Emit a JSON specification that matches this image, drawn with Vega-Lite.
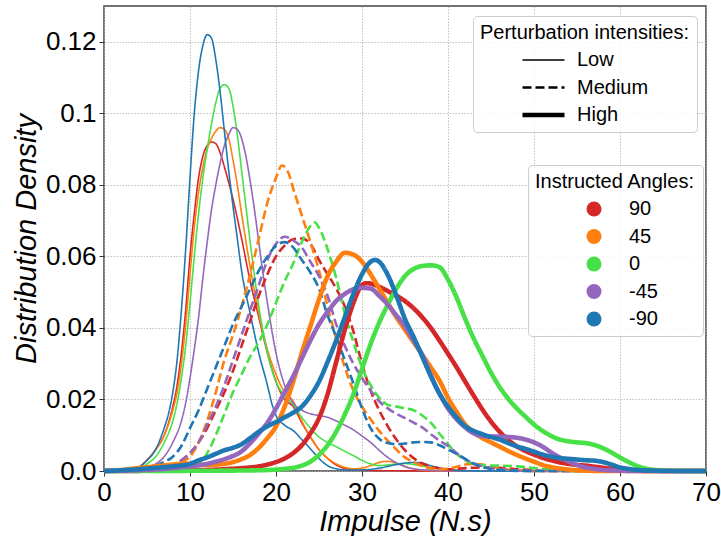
{
"$schema": "https://vega.github.io/schema/vega-lite/v6.json",
"width": 602, "height": 465,
"autosize": "none",
"padding": {"left": 104, "top": 6, "right": 15, "bottom": 65},
"config": {
  "font": "Liberation Sans",
  "view": {"stroke": "#444444", "strokeWidth": 1.5},
  "axis": {
    "labelFont": "Liberation Sans", "labelFontSize": 26, "labelColor": "black",
    "titleFont": "Liberation Sans", "titleFontSize": 29, "titleFontStyle": "italic", "titleFontWeight": "normal", "titleColor": "black",
    "tickColor": "#333333", "tickSize": 5, "tickWidth": 1,
    "domain": false, "labelFlush": false, "labelOverlap": false,
    "grid": true, "gridColor": "#b0b0b0", "gridDash": [1.5, 1.5], "gridWidth": 0.8,
    "labelPadding": 3
  },
  "legend": {
    "titleFont": "Liberation Sans", "labelFont": "Liberation Sans",
    "titleFontSize": 20, "labelFontSize": 20, "titleFontWeight": "normal", "titleColor": "black", "labelColor": "black",
    "titleLimit": 400, "padding": 7, "strokeColor": "#cccccc", "fillColor": "rgba(255,255,255,0.85)", "cornerRadius": 4,
    "rowPadding": 7.5, "titlePadding": 7, "clipHeight": 20
  }
},
"data": {"values": [
{"angle":"90","level":"Low","x":0,"y":0},{"angle":"90","level":"Low","x":3,"y":0.0003},{"angle":"90","level":"Low","x":4,"y":0.001},{"angle":"90","level":"Low","x":5,"y":0.003},{"angle":"90","level":"Low","x":6,"y":0.006},{"angle":"90","level":"Low","x":7,"y":0.01},{"angle":"90","level":"Low","x":8,"y":0.018},{"angle":"90","level":"Low","x":8.5,"y":0.024},{"angle":"90","level":"Low","x":9,"y":0.033},{"angle":"90","level":"Low","x":9.5,"y":0.045},{"angle":"90","level":"Low","x":10,"y":0.06},{"angle":"90","level":"Low","x":10.5,"y":0.072},{"angle":"90","level":"Low","x":11,"y":0.082},{"angle":"90","level":"Low","x":11.5,"y":0.088},{"angle":"90","level":"Low","x":12,"y":0.091},{"angle":"90","level":"Low","x":12.5,"y":0.092},{"angle":"90","level":"Low","x":13,"y":0.0915},{"angle":"90","level":"Low","x":13.5,"y":0.089},{"angle":"90","level":"Low","x":14,"y":0.085},{"angle":"90","level":"Low","x":15,"y":0.076},{"angle":"90","level":"Low","x":16,"y":0.065},{"angle":"90","level":"Low","x":17,"y":0.053},{"angle":"90","level":"Low","x":18,"y":0.043},{"angle":"90","level":"Low","x":19,"y":0.033},{"angle":"90","level":"Low","x":20,"y":0.025},{"angle":"90","level":"Low","x":21,"y":0.02},{"angle":"90","level":"Low","x":22,"y":0.018},{"angle":"90","level":"Low","x":23,"y":0.0135},{"angle":"90","level":"Low","x":24,"y":0.0095},{"angle":"90","level":"Low","x":25,"y":0.006},{"angle":"90","level":"Low","x":26,"y":0.0035},{"angle":"90","level":"Low","x":27,"y":0.0017},{"angle":"90","level":"Low","x":28,"y":0.0007},{"angle":"90","level":"Low","x":29,"y":0.0003},{"angle":"90","level":"Low","x":32,"y":0.0001},{"angle":"90","level":"Low","x":40,"y":0},{"angle":"90","level":"Low","x":70,"y":0},
{"angle":"45","level":"Low","x":0,"y":0},{"angle":"45","level":"Low","x":3,"y":0.0003},{"angle":"45","level":"Low","x":4,"y":0.001},{"angle":"45","level":"Low","x":5,"y":0.003},{"angle":"45","level":"Low","x":6,"y":0.006},{"angle":"45","level":"Low","x":7,"y":0.01},{"angle":"45","level":"Low","x":8,"y":0.017},{"angle":"45","level":"Low","x":8.5,"y":0.022},{"angle":"45","level":"Low","x":9,"y":0.03},{"angle":"45","level":"Low","x":9.5,"y":0.041},{"angle":"45","level":"Low","x":10,"y":0.055},{"angle":"45","level":"Low","x":10.5,"y":0.068},{"angle":"45","level":"Low","x":11,"y":0.078},{"angle":"45","level":"Low","x":11.5,"y":0.085},{"angle":"45","level":"Low","x":12,"y":0.09},{"angle":"45","level":"Low","x":12.5,"y":0.093},{"angle":"45","level":"Low","x":13,"y":0.095},{"angle":"45","level":"Low","x":13.5,"y":0.096},{"angle":"45","level":"Low","x":14,"y":0.0955},{"angle":"45","level":"Low","x":14.5,"y":0.093},{"angle":"45","level":"Low","x":15,"y":0.087},{"angle":"45","level":"Low","x":15.5,"y":0.08},{"angle":"45","level":"Low","x":16,"y":0.072},{"angle":"45","level":"Low","x":17,"y":0.057},{"angle":"45","level":"Low","x":18,"y":0.044},{"angle":"45","level":"Low","x":19,"y":0.034},{"angle":"45","level":"Low","x":20,"y":0.027},{"angle":"45","level":"Low","x":21,"y":0.022},{"angle":"45","level":"Low","x":22,"y":0.0195},{"angle":"45","level":"Low","x":23,"y":0.014},{"angle":"45","level":"Low","x":24,"y":0.0095},{"angle":"45","level":"Low","x":25,"y":0.006},{"angle":"45","level":"Low","x":26,"y":0.0036},{"angle":"45","level":"Low","x":27,"y":0.002},{"angle":"45","level":"Low","x":28,"y":0.001},{"angle":"45","level":"Low","x":29,"y":0.0006},{"angle":"45","level":"Low","x":30,"y":0.0008},{"angle":"45","level":"Low","x":31,"y":0.0015},{"angle":"45","level":"Low","x":32,"y":0.0024},{"angle":"45","level":"Low","x":33,"y":0.0027},{"angle":"45","level":"Low","x":34,"y":0.0022},{"angle":"45","level":"Low","x":35,"y":0.0013},{"angle":"45","level":"Low","x":36,"y":0.0006},{"angle":"45","level":"Low","x":38,"y":0.0001},{"angle":"45","level":"Low","x":40,"y":0},{"angle":"45","level":"Low","x":70,"y":0},
{"angle":"0","level":"Low","x":0,"y":0},{"angle":"0","level":"Low","x":4,"y":0.0005},{"angle":"0","level":"Low","x":5,"y":0.002},{"angle":"0","level":"Low","x":6,"y":0.004},{"angle":"0","level":"Low","x":7,"y":0.008},{"angle":"0","level":"Low","x":8,"y":0.014},{"angle":"0","level":"Low","x":8.5,"y":0.019},{"angle":"0","level":"Low","x":9,"y":0.026},{"angle":"0","level":"Low","x":9.5,"y":0.035},{"angle":"0","level":"Low","x":10,"y":0.047},{"angle":"0","level":"Low","x":10.5,"y":0.06},{"angle":"0","level":"Low","x":11,"y":0.072},{"angle":"0","level":"Low","x":11.5,"y":0.082},{"angle":"0","level":"Low","x":12,"y":0.09},{"angle":"0","level":"Low","x":12.5,"y":0.097},{"angle":"0","level":"Low","x":13,"y":0.103},{"angle":"0","level":"Low","x":13.5,"y":0.107},{"angle":"0","level":"Low","x":14,"y":0.108},{"angle":"0","level":"Low","x":14.5,"y":0.107},{"angle":"0","level":"Low","x":15,"y":0.102},{"angle":"0","level":"Low","x":15.5,"y":0.094},{"angle":"0","level":"Low","x":16,"y":0.084},{"angle":"0","level":"Low","x":16.5,"y":0.074},{"angle":"0","level":"Low","x":17,"y":0.064},{"angle":"0","level":"Low","x":18,"y":0.046},{"angle":"0","level":"Low","x":19,"y":0.033},{"angle":"0","level":"Low","x":20,"y":0.025},{"angle":"0","level":"Low","x":21,"y":0.021},{"angle":"0","level":"Low","x":22,"y":0.0185},{"angle":"0","level":"Low","x":23,"y":0.015},{"angle":"0","level":"Low","x":24,"y":0.012},{"angle":"0","level":"Low","x":25,"y":0.0095},{"angle":"0","level":"Low","x":26,"y":0.008},{"angle":"0","level":"Low","x":27,"y":0.0068},{"angle":"0","level":"Low","x":28,"y":0.0055},{"angle":"0","level":"Low","x":29,"y":0.0043},{"angle":"0","level":"Low","x":30,"y":0.003},{"angle":"0","level":"Low","x":31,"y":0.002},{"angle":"0","level":"Low","x":32,"y":0.0015},{"angle":"0","level":"Low","x":33,"y":0.0017},{"angle":"0","level":"Low","x":34,"y":0.002},{"angle":"0","level":"Low","x":35,"y":0.0021},{"angle":"0","level":"Low","x":36,"y":0.0018},{"angle":"0","level":"Low","x":38,"y":0.001},{"angle":"0","level":"Low","x":40,"y":0.0004},{"angle":"0","level":"Low","x":42,"y":0.0001},{"angle":"0","level":"Low","x":45,"y":0},{"angle":"0","level":"Low","x":70,"y":0},
{"angle":"-45","level":"Low","x":0,"y":0},{"angle":"-45","level":"Low","x":5,"y":0.001},{"angle":"-45","level":"Low","x":6,"y":0.002},{"angle":"-45","level":"Low","x":7,"y":0.004},{"angle":"-45","level":"Low","x":8,"y":0.008},{"angle":"-45","level":"Low","x":9,"y":0.014},{"angle":"-45","level":"Low","x":9.5,"y":0.019},{"angle":"-45","level":"Low","x":10,"y":0.026},{"angle":"-45","level":"Low","x":10.5,"y":0.034},{"angle":"-45","level":"Low","x":11,"y":0.043},{"angle":"-45","level":"Low","x":11.5,"y":0.054},{"angle":"-45","level":"Low","x":12,"y":0.064},{"angle":"-45","level":"Low","x":12.5,"y":0.073},{"angle":"-45","level":"Low","x":13,"y":0.08},{"angle":"-45","level":"Low","x":13.5,"y":0.086},{"angle":"-45","level":"Low","x":14,"y":0.091},{"angle":"-45","level":"Low","x":14.5,"y":0.094},{"angle":"-45","level":"Low","x":15,"y":0.096},{"angle":"-45","level":"Low","x":15.5,"y":0.0955},{"angle":"-45","level":"Low","x":16,"y":0.093},{"angle":"-45","level":"Low","x":16.5,"y":0.088},{"angle":"-45","level":"Low","x":17,"y":0.081},{"angle":"-45","level":"Low","x":17.5,"y":0.073},{"angle":"-45","level":"Low","x":18,"y":0.064},{"angle":"-45","level":"Low","x":18.5,"y":0.055},{"angle":"-45","level":"Low","x":19,"y":0.047},{"angle":"-45","level":"Low","x":20,"y":0.033},{"angle":"-45","level":"Low","x":21,"y":0.024},{"angle":"-45","level":"Low","x":22,"y":0.019},{"angle":"-45","level":"Low","x":23,"y":0.017},{"angle":"-45","level":"Low","x":24,"y":0.016},{"angle":"-45","level":"Low","x":25,"y":0.0155},{"angle":"-45","level":"Low","x":26,"y":0.015},{"angle":"-45","level":"Low","x":27,"y":0.014},{"angle":"-45","level":"Low","x":28,"y":0.0128},{"angle":"-45","level":"Low","x":29,"y":0.0115},{"angle":"-45","level":"Low","x":30,"y":0.0098},{"angle":"-45","level":"Low","x":31,"y":0.008},{"angle":"-45","level":"Low","x":32,"y":0.0058},{"angle":"-45","level":"Low","x":33,"y":0.0038},{"angle":"-45","level":"Low","x":34,"y":0.0023},{"angle":"-45","level":"Low","x":35,"y":0.0012},{"angle":"-45","level":"Low","x":36,"y":0.0006},{"angle":"-45","level":"Low","x":38,"y":0.0002},{"angle":"-45","level":"Low","x":40,"y":0},{"angle":"-45","level":"Low","x":70,"y":0},
{"angle":"-90","level":"Low","x":0,"y":0},{"angle":"-90","level":"Low","x":2,"y":0.0001},{"angle":"-90","level":"Low","x":4,"y":0.001},{"angle":"-90","level":"Low","x":5,"y":0.003},{"angle":"-90","level":"Low","x":6,"y":0.006},{"angle":"-90","level":"Low","x":7,"y":0.012},{"angle":"-90","level":"Low","x":7.5,"y":0.016},{"angle":"-90","level":"Low","x":8,"y":0.022},{"angle":"-90","level":"Low","x":8.5,"y":0.031},{"angle":"-90","level":"Low","x":9,"y":0.045},{"angle":"-90","level":"Low","x":9.5,"y":0.062},{"angle":"-90","level":"Low","x":10,"y":0.082},{"angle":"-90","level":"Low","x":10.5,"y":0.1},{"angle":"-90","level":"Low","x":11,"y":0.112},{"angle":"-90","level":"Low","x":11.5,"y":0.119},{"angle":"-90","level":"Low","x":12,"y":0.122},{"angle":"-90","level":"Low","x":12.5,"y":0.121},{"angle":"-90","level":"Low","x":13,"y":0.115},{"angle":"-90","level":"Low","x":13.5,"y":0.106},{"angle":"-90","level":"Low","x":14,"y":0.095},{"angle":"-90","level":"Low","x":14.5,"y":0.084},{"angle":"-90","level":"Low","x":15,"y":0.074},{"angle":"-90","level":"Low","x":15.5,"y":0.065},{"angle":"-90","level":"Low","x":16,"y":0.056},{"angle":"-90","level":"Low","x":17,"y":0.044},{"angle":"-90","level":"Low","x":18,"y":0.033},{"angle":"-90","level":"Low","x":19,"y":0.024},{"angle":"-90","level":"Low","x":19.5,"y":0.019},{"angle":"-90","level":"Low","x":20,"y":0.0155},{"angle":"-90","level":"Low","x":21,"y":0.0128},{"angle":"-90","level":"Low","x":22,"y":0.0113},{"angle":"-90","level":"Low","x":23,"y":0.0088},{"angle":"-90","level":"Low","x":24,"y":0.0062},{"angle":"-90","level":"Low","x":25,"y":0.0035},{"angle":"-90","level":"Low","x":26,"y":0.0015},{"angle":"-90","level":"Low","x":27,"y":0.0006},{"angle":"-90","level":"Low","x":28,"y":0.0003},{"angle":"-90","level":"Low","x":30,"y":0.0003},{"angle":"-90","level":"Low","x":32,"y":0.0008},{"angle":"-90","level":"Low","x":34,"y":0.0018},{"angle":"-90","level":"Low","x":36,"y":0.0024},{"angle":"-90","level":"Low","x":37,"y":0.0022},{"angle":"-90","level":"Low","x":38,"y":0.0015},{"angle":"-90","level":"Low","x":40,"y":0.0005},{"angle":"-90","level":"Low","x":42,"y":0.0001},{"angle":"-90","level":"Low","x":45,"y":0},{"angle":"-90","level":"Low","x":70,"y":0},
{"angle":"90","level":"Medium","x":0,"y":0},{"angle":"90","level":"Medium","x":6,"y":0.0003},{"angle":"90","level":"Medium","x":8,"y":0.0015},{"angle":"90","level":"Medium","x":9,"y":0.003},{"angle":"90","level":"Medium","x":10,"y":0.005},{"angle":"90","level":"Medium","x":11,"y":0.008},{"angle":"90","level":"Medium","x":12,"y":0.012},{"angle":"90","level":"Medium","x":13,"y":0.017},{"angle":"90","level":"Medium","x":14,"y":0.022},{"angle":"90","level":"Medium","x":15,"y":0.028},{"angle":"90","level":"Medium","x":16,"y":0.035},{"angle":"90","level":"Medium","x":17,"y":0.042},{"angle":"90","level":"Medium","x":18,"y":0.049},{"angle":"90","level":"Medium","x":19,"y":0.055},{"angle":"90","level":"Medium","x":20,"y":0.06},{"angle":"90","level":"Medium","x":21,"y":0.063},{"angle":"90","level":"Medium","x":22,"y":0.0648},{"angle":"90","level":"Medium","x":23,"y":0.065},{"angle":"90","level":"Medium","x":24,"y":0.0635},{"angle":"90","level":"Medium","x":25,"y":0.059},{"angle":"90","level":"Medium","x":26,"y":0.055},{"angle":"90","level":"Medium","x":27,"y":0.051},{"angle":"90","level":"Medium","x":28,"y":0.046},{"angle":"90","level":"Medium","x":29,"y":0.039},{"angle":"90","level":"Medium","x":30,"y":0.03},{"angle":"90","level":"Medium","x":31,"y":0.0225},{"angle":"90","level":"Medium","x":32,"y":0.017},{"angle":"90","level":"Medium","x":33,"y":0.0125},{"angle":"90","level":"Medium","x":34,"y":0.0088},{"angle":"90","level":"Medium","x":35,"y":0.0058},{"angle":"90","level":"Medium","x":36,"y":0.0036},{"angle":"90","level":"Medium","x":37,"y":0.0021},{"angle":"90","level":"Medium","x":38,"y":0.0012},{"angle":"90","level":"Medium","x":39,"y":0.0007},{"angle":"90","level":"Medium","x":40,"y":0.0005},{"angle":"90","level":"Medium","x":42,"y":0.0008},{"angle":"90","level":"Medium","x":44,"y":0.001},{"angle":"90","level":"Medium","x":46,"y":0.0009},{"angle":"90","level":"Medium","x":48,"y":0.0005},{"angle":"90","level":"Medium","x":50,"y":0.0002},{"angle":"90","level":"Medium","x":52,"y":0},{"angle":"90","level":"Medium","x":70,"y":0},
{"angle":"45","level":"Medium","x":0,"y":0},{"angle":"45","level":"Medium","x":6,"y":0.0005},{"angle":"45","level":"Medium","x":8,"y":0.0015},{"angle":"45","level":"Medium","x":9,"y":0.0025},{"angle":"45","level":"Medium","x":10,"y":0.004},{"angle":"45","level":"Medium","x":11,"y":0.008},{"angle":"45","level":"Medium","x":12,"y":0.014},{"angle":"45","level":"Medium","x":13,"y":0.022},{"angle":"45","level":"Medium","x":14,"y":0.031},{"angle":"45","level":"Medium","x":15,"y":0.038},{"angle":"45","level":"Medium","x":16,"y":0.046},{"angle":"45","level":"Medium","x":17,"y":0.055},{"angle":"45","level":"Medium","x":18,"y":0.065},{"angle":"45","level":"Medium","x":19,"y":0.075},{"angle":"45","level":"Medium","x":20,"y":0.082},{"angle":"45","level":"Medium","x":20.7,"y":0.0854},{"angle":"45","level":"Medium","x":21.5,"y":0.083},{"angle":"45","level":"Medium","x":22,"y":0.079},{"angle":"45","level":"Medium","x":23,"y":0.0715},{"angle":"45","level":"Medium","x":24,"y":0.064},{"angle":"45","level":"Medium","x":25,"y":0.056},{"angle":"45","level":"Medium","x":26,"y":0.046},{"angle":"45","level":"Medium","x":27,"y":0.037},{"angle":"45","level":"Medium","x":28,"y":0.029},{"angle":"45","level":"Medium","x":29,"y":0.0225},{"angle":"45","level":"Medium","x":30,"y":0.018},{"angle":"45","level":"Medium","x":31,"y":0.0145},{"angle":"45","level":"Medium","x":32,"y":0.0112},{"angle":"45","level":"Medium","x":33,"y":0.0085},{"angle":"45","level":"Medium","x":34,"y":0.006},{"angle":"45","level":"Medium","x":35,"y":0.0038},{"angle":"45","level":"Medium","x":36,"y":0.0025},{"angle":"45","level":"Medium","x":37,"y":0.0014},{"angle":"45","level":"Medium","x":38,"y":0.0008},{"angle":"45","level":"Medium","x":39,"y":0.0005},{"angle":"45","level":"Medium","x":40,"y":0.0006},{"angle":"45","level":"Medium","x":41,"y":0.0012},{"angle":"45","level":"Medium","x":42,"y":0.0018},{"angle":"45","level":"Medium","x":43,"y":0.002},{"angle":"45","level":"Medium","x":44,"y":0.0018},{"angle":"45","level":"Medium","x":45,"y":0.0013},{"angle":"45","level":"Medium","x":46,"y":0.0007},{"angle":"45","level":"Medium","x":48,"y":0.0002},{"angle":"45","level":"Medium","x":50,"y":0},{"angle":"45","level":"Medium","x":70,"y":0},
{"angle":"0","level":"Medium","x":0,"y":0},{"angle":"0","level":"Medium","x":8,"y":0.0003},{"angle":"0","level":"Medium","x":10,"y":0.001},{"angle":"0","level":"Medium","x":11,"y":0.002},{"angle":"0","level":"Medium","x":12,"y":0.005},{"angle":"0","level":"Medium","x":13,"y":0.01},{"angle":"0","level":"Medium","x":14,"y":0.016},{"angle":"0","level":"Medium","x":15,"y":0.022},{"angle":"0","level":"Medium","x":16,"y":0.027},{"angle":"0","level":"Medium","x":17,"y":0.032},{"angle":"0","level":"Medium","x":18,"y":0.036},{"angle":"0","level":"Medium","x":19,"y":0.041},{"angle":"0","level":"Medium","x":20,"y":0.047},{"angle":"0","level":"Medium","x":21,"y":0.053},{"angle":"0","level":"Medium","x":22,"y":0.058},{"angle":"0","level":"Medium","x":23,"y":0.064},{"angle":"0","level":"Medium","x":24,"y":0.0685},{"angle":"0","level":"Medium","x":24.5,"y":0.0695},{"angle":"0","level":"Medium","x":25,"y":0.068},{"angle":"0","level":"Medium","x":26,"y":0.062},{"angle":"0","level":"Medium","x":27,"y":0.054},{"angle":"0","level":"Medium","x":28,"y":0.044},{"angle":"0","level":"Medium","x":29,"y":0.036},{"angle":"0","level":"Medium","x":30,"y":0.029},{"angle":"0","level":"Medium","x":31,"y":0.024},{"angle":"0","level":"Medium","x":32,"y":0.0205},{"angle":"0","level":"Medium","x":33,"y":0.0185},{"angle":"0","level":"Medium","x":34,"y":0.018},{"angle":"0","level":"Medium","x":35,"y":0.0175},{"angle":"0","level":"Medium","x":36,"y":0.017},{"angle":"0","level":"Medium","x":37,"y":0.0155},{"angle":"0","level":"Medium","x":38,"y":0.0135},{"angle":"0","level":"Medium","x":39,"y":0.0105},{"angle":"0","level":"Medium","x":40,"y":0.0075},{"angle":"0","level":"Medium","x":41,"y":0.0048},{"angle":"0","level":"Medium","x":42,"y":0.003},{"angle":"0","level":"Medium","x":43,"y":0.002},{"angle":"0","level":"Medium","x":44,"y":0.0016},{"angle":"0","level":"Medium","x":46,"y":0.0015},{"angle":"0","level":"Medium","x":48,"y":0.0013},{"angle":"0","level":"Medium","x":50,"y":0.0008},{"angle":"0","level":"Medium","x":52,"y":0.0004},{"angle":"0","level":"Medium","x":54,"y":0.0001},{"angle":"0","level":"Medium","x":56,"y":0},{"angle":"0","level":"Medium","x":70,"y":0},
{"angle":"-45","level":"Medium","x":0,"y":0},{"angle":"-45","level":"Medium","x":6,"y":0.0003},{"angle":"-45","level":"Medium","x":8,"y":0.0015},{"angle":"-45","level":"Medium","x":9,"y":0.003},{"angle":"-45","level":"Medium","x":10,"y":0.005},{"angle":"-45","level":"Medium","x":11,"y":0.008},{"angle":"-45","level":"Medium","x":12,"y":0.013},{"angle":"-45","level":"Medium","x":13,"y":0.018},{"angle":"-45","level":"Medium","x":14,"y":0.024},{"angle":"-45","level":"Medium","x":15,"y":0.031},{"angle":"-45","level":"Medium","x":16,"y":0.038},{"angle":"-45","level":"Medium","x":17,"y":0.045},{"angle":"-45","level":"Medium","x":18,"y":0.052},{"angle":"-45","level":"Medium","x":19,"y":0.059},{"angle":"-45","level":"Medium","x":20,"y":0.0635},{"angle":"-45","level":"Medium","x":21,"y":0.0655},{"angle":"-45","level":"Medium","x":22,"y":0.0645},{"angle":"-45","level":"Medium","x":23,"y":0.0625},{"angle":"-45","level":"Medium","x":24,"y":0.0585},{"angle":"-45","level":"Medium","x":25,"y":0.0545},{"angle":"-45","level":"Medium","x":26,"y":0.049},{"angle":"-45","level":"Medium","x":27,"y":0.041},{"angle":"-45","level":"Medium","x":28,"y":0.035},{"angle":"-45","level":"Medium","x":29,"y":0.03},{"angle":"-45","level":"Medium","x":30,"y":0.026},{"angle":"-45","level":"Medium","x":31,"y":0.0225},{"angle":"-45","level":"Medium","x":32,"y":0.0195},{"angle":"-45","level":"Medium","x":33,"y":0.0175},{"angle":"-45","level":"Medium","x":34,"y":0.016},{"angle":"-45","level":"Medium","x":35,"y":0.0148},{"angle":"-45","level":"Medium","x":36,"y":0.0135},{"angle":"-45","level":"Medium","x":37,"y":0.0122},{"angle":"-45","level":"Medium","x":38,"y":0.0103},{"angle":"-45","level":"Medium","x":39,"y":0.0085},{"angle":"-45","level":"Medium","x":40,"y":0.007},{"angle":"-45","level":"Medium","x":41,"y":0.005},{"angle":"-45","level":"Medium","x":42,"y":0.0033},{"angle":"-45","level":"Medium","x":43,"y":0.0022},{"angle":"-45","level":"Medium","x":44,"y":0.0013},{"angle":"-45","level":"Medium","x":45,"y":0.0008},{"angle":"-45","level":"Medium","x":47,"y":0.0003},{"angle":"-45","level":"Medium","x":50,"y":0},{"angle":"-45","level":"Medium","x":70,"y":0},
{"angle":"-90","level":"Medium","x":0,"y":0},{"angle":"-90","level":"Medium","x":3,"y":0.0002},{"angle":"-90","level":"Medium","x":5,"y":0.0008},{"angle":"-90","level":"Medium","x":6,"y":0.0015},{"angle":"-90","level":"Medium","x":7,"y":0.0025},{"angle":"-90","level":"Medium","x":8,"y":0.004},{"angle":"-90","level":"Medium","x":9,"y":0.007},{"angle":"-90","level":"Medium","x":10,"y":0.012},{"angle":"-90","level":"Medium","x":11,"y":0.017},{"angle":"-90","level":"Medium","x":12,"y":0.023},{"angle":"-90","level":"Medium","x":13,"y":0.029},{"angle":"-90","level":"Medium","x":14,"y":0.035},{"angle":"-90","level":"Medium","x":15,"y":0.041},{"angle":"-90","level":"Medium","x":16,"y":0.046},{"angle":"-90","level":"Medium","x":17,"y":0.051},{"angle":"-90","level":"Medium","x":18,"y":0.056},{"angle":"-90","level":"Medium","x":19,"y":0.06},{"angle":"-90","level":"Medium","x":20,"y":0.063},{"angle":"-90","level":"Medium","x":21,"y":0.064},{"angle":"-90","level":"Medium","x":22,"y":0.0625},{"angle":"-90","level":"Medium","x":23,"y":0.059},{"angle":"-90","level":"Medium","x":24,"y":0.0555},{"angle":"-90","level":"Medium","x":25,"y":0.051},{"angle":"-90","level":"Medium","x":26,"y":0.0435},{"angle":"-90","level":"Medium","x":27,"y":0.0375},{"angle":"-90","level":"Medium","x":28,"y":0.031},{"angle":"-90","level":"Medium","x":29,"y":0.0245},{"angle":"-90","level":"Medium","x":30,"y":0.0175},{"angle":"-90","level":"Medium","x":31,"y":0.012},{"angle":"-90","level":"Medium","x":32,"y":0.009},{"angle":"-90","level":"Medium","x":33,"y":0.0078},{"angle":"-90","level":"Medium","x":34,"y":0.0075},{"angle":"-90","level":"Medium","x":35,"y":0.0077},{"angle":"-90","level":"Medium","x":36,"y":0.008},{"angle":"-90","level":"Medium","x":37,"y":0.0081},{"angle":"-90","level":"Medium","x":38,"y":0.008},{"angle":"-90","level":"Medium","x":39,"y":0.0072},{"angle":"-90","level":"Medium","x":40,"y":0.006},{"angle":"-90","level":"Medium","x":41,"y":0.0048},{"angle":"-90","level":"Medium","x":42,"y":0.0034},{"angle":"-90","level":"Medium","x":43,"y":0.002},{"angle":"-90","level":"Medium","x":44,"y":0.0011},{"angle":"-90","level":"Medium","x":45,"y":0.0005},{"angle":"-90","level":"Medium","x":47,"y":0.0001},{"angle":"-90","level":"Medium","x":50,"y":0},{"angle":"-90","level":"Medium","x":70,"y":0},
{"angle":"90","level":"High","x":0,"y":0},{"angle":"90","level":"High","x":10,"y":0.0002},{"angle":"90","level":"High","x":14,"y":0.0005},{"angle":"90","level":"High","x":16,"y":0.0008},{"angle":"90","level":"High","x":18,"y":0.0013},{"angle":"90","level":"High","x":19,"y":0.0018},{"angle":"90","level":"High","x":20,"y":0.0025},{"angle":"90","level":"High","x":21,"y":0.0035},{"angle":"90","level":"High","x":22,"y":0.005},{"angle":"90","level":"High","x":23,"y":0.0072},{"angle":"90","level":"High","x":24,"y":0.0105},{"angle":"90","level":"High","x":25,"y":0.0148},{"angle":"90","level":"High","x":26,"y":0.0215},{"angle":"90","level":"High","x":27,"y":0.0305},{"angle":"90","level":"High","x":28,"y":0.0395},{"angle":"90","level":"High","x":29,"y":0.047},{"angle":"90","level":"High","x":30,"y":0.052},{"angle":"90","level":"High","x":30.5,"y":0.0525},{"angle":"90","level":"High","x":31,"y":0.0524},{"angle":"90","level":"High","x":32,"y":0.0515},{"angle":"90","level":"High","x":33,"y":0.0503},{"angle":"90","level":"High","x":34,"y":0.049},{"angle":"90","level":"High","x":35,"y":0.0475},{"angle":"90","level":"High","x":36,"y":0.0455},{"angle":"90","level":"High","x":37,"y":0.043},{"angle":"90","level":"High","x":38,"y":0.04},{"angle":"90","level":"High","x":39,"y":0.0365},{"angle":"90","level":"High","x":40,"y":0.0328},{"angle":"90","level":"High","x":41,"y":0.029},{"angle":"90","level":"High","x":42,"y":0.025},{"angle":"90","level":"High","x":43,"y":0.021},{"angle":"90","level":"High","x":44,"y":0.0172},{"angle":"90","level":"High","x":45,"y":0.0138},{"angle":"90","level":"High","x":46,"y":0.011},{"angle":"90","level":"High","x":47,"y":0.0087},{"angle":"90","level":"High","x":48,"y":0.0069},{"angle":"90","level":"High","x":49,"y":0.0056},{"angle":"90","level":"High","x":50,"y":0.0046},{"angle":"90","level":"High","x":51,"y":0.0037},{"angle":"90","level":"High","x":52,"y":0.003},{"angle":"90","level":"High","x":53,"y":0.0024},{"angle":"90","level":"High","x":54,"y":0.002},{"angle":"90","level":"High","x":55,"y":0.0017},{"angle":"90","level":"High","x":56,"y":0.0015},{"angle":"90","level":"High","x":57,"y":0.0012},{"angle":"90","level":"High","x":58,"y":0.0009},{"angle":"90","level":"High","x":59,"y":0.0006},{"angle":"90","level":"High","x":60,"y":0.0004},{"angle":"90","level":"High","x":62,"y":0.0001},{"angle":"90","level":"High","x":64,"y":0},{"angle":"90","level":"High","x":70,"y":0},
{"angle":"45","level":"High","x":0,"y":0},{"angle":"45","level":"High","x":2,"y":0.0003},{"angle":"45","level":"High","x":4,"y":0.0008},{"angle":"45","level":"High","x":6,"y":0.0013},{"angle":"45","level":"High","x":8,"y":0.0018},{"angle":"45","level":"High","x":9,"y":0.002},{"angle":"45","level":"High","x":10,"y":0.002},{"angle":"45","level":"High","x":11,"y":0.0018},{"angle":"45","level":"High","x":12,"y":0.0017},{"angle":"45","level":"High","x":13,"y":0.0018},{"angle":"45","level":"High","x":14,"y":0.002},{"angle":"45","level":"High","x":15,"y":0.0025},{"angle":"45","level":"High","x":16,"y":0.0033},{"angle":"45","level":"High","x":17,"y":0.0045},{"angle":"45","level":"High","x":18,"y":0.0065},{"angle":"45","level":"High","x":19,"y":0.0092},{"angle":"45","level":"High","x":20,"y":0.0125},{"angle":"45","level":"High","x":21,"y":0.018},{"angle":"45","level":"High","x":22,"y":0.025},{"angle":"45","level":"High","x":23,"y":0.033},{"angle":"45","level":"High","x":24,"y":0.0405},{"angle":"45","level":"High","x":25,"y":0.048},{"angle":"45","level":"High","x":26,"y":0.0545},{"angle":"45","level":"High","x":27,"y":0.0585},{"angle":"45","level":"High","x":28,"y":0.061},{"angle":"45","level":"High","x":29,"y":0.0605},{"angle":"45","level":"High","x":30,"y":0.0585},{"angle":"45","level":"High","x":31,"y":0.055},{"angle":"45","level":"High","x":32,"y":0.051},{"angle":"45","level":"High","x":33,"y":0.047},{"angle":"45","level":"High","x":34,"y":0.043},{"angle":"45","level":"High","x":35,"y":0.0395},{"angle":"45","level":"High","x":36,"y":0.036},{"angle":"45","level":"High","x":37,"y":0.0325},{"angle":"45","level":"High","x":38,"y":0.029},{"angle":"45","level":"High","x":39,"y":0.0253},{"angle":"45","level":"High","x":40,"y":0.0205},{"angle":"45","level":"High","x":41,"y":0.0165},{"angle":"45","level":"High","x":42,"y":0.013},{"angle":"45","level":"High","x":43,"y":0.0108},{"angle":"45","level":"High","x":44,"y":0.0092},{"angle":"45","level":"High","x":45,"y":0.008},{"angle":"45","level":"High","x":46,"y":0.0068},{"angle":"45","level":"High","x":47,"y":0.0056},{"angle":"45","level":"High","x":48,"y":0.0045},{"angle":"45","level":"High","x":49,"y":0.0035},{"angle":"45","level":"High","x":50,"y":0.0026},{"angle":"45","level":"High","x":51,"y":0.0017},{"angle":"45","level":"High","x":52,"y":0.0011},{"angle":"45","level":"High","x":53,"y":0.0007},{"angle":"45","level":"High","x":54,"y":0.0004},{"angle":"45","level":"High","x":56,"y":0.0001},{"angle":"45","level":"High","x":58,"y":0},{"angle":"45","level":"High","x":70,"y":0},
{"angle":"0","level":"High","x":0,"y":0},{"angle":"0","level":"High","x":14,"y":0.0001},{"angle":"0","level":"High","x":18,"y":0.0002},{"angle":"0","level":"High","x":20,"y":0.0004},{"angle":"0","level":"High","x":21,"y":0.0006},{"angle":"0","level":"High","x":22,"y":0.0009},{"angle":"0","level":"High","x":23,"y":0.0015},{"angle":"0","level":"High","x":24,"y":0.0026},{"angle":"0","level":"High","x":25,"y":0.0045},{"angle":"0","level":"High","x":26,"y":0.0072},{"angle":"0","level":"High","x":27,"y":0.011},{"angle":"0","level":"High","x":28,"y":0.0158},{"angle":"0","level":"High","x":29,"y":0.0215},{"angle":"0","level":"High","x":30,"y":0.0285},{"angle":"0","level":"High","x":31,"y":0.0355},{"angle":"0","level":"High","x":32,"y":0.0415},{"angle":"0","level":"High","x":33,"y":0.0465},{"angle":"0","level":"High","x":34,"y":0.051},{"angle":"0","level":"High","x":35,"y":0.0545},{"angle":"0","level":"High","x":36,"y":0.0565},{"angle":"0","level":"High","x":37,"y":0.0573},{"angle":"0","level":"High","x":38,"y":0.0575},{"angle":"0","level":"High","x":39,"y":0.057},{"angle":"0","level":"High","x":40,"y":0.0535},{"angle":"0","level":"High","x":41,"y":0.0485},{"angle":"0","level":"High","x":42,"y":0.0425},{"angle":"0","level":"High","x":43,"y":0.037},{"angle":"0","level":"High","x":44,"y":0.0322},{"angle":"0","level":"High","x":45,"y":0.0275},{"angle":"0","level":"High","x":46,"y":0.0235},{"angle":"0","level":"High","x":47,"y":0.0202},{"angle":"0","level":"High","x":48,"y":0.0175},{"angle":"0","level":"High","x":49,"y":0.0152},{"angle":"0","level":"High","x":50,"y":0.013},{"angle":"0","level":"High","x":51,"y":0.0112},{"angle":"0","level":"High","x":52,"y":0.0098},{"angle":"0","level":"High","x":53,"y":0.0088},{"angle":"0","level":"High","x":54,"y":0.0083},{"angle":"0","level":"High","x":55,"y":0.008},{"angle":"0","level":"High","x":56,"y":0.0078},{"angle":"0","level":"High","x":57,"y":0.0073},{"angle":"0","level":"High","x":58,"y":0.0064},{"angle":"0","level":"High","x":59,"y":0.0052},{"angle":"0","level":"High","x":60,"y":0.0038},{"angle":"0","level":"High","x":61,"y":0.0025},{"angle":"0","level":"High","x":62,"y":0.0014},{"angle":"0","level":"High","x":63,"y":0.0007},{"angle":"0","level":"High","x":64,"y":0.0003},{"angle":"0","level":"High","x":66,"y":0.0001},{"angle":"0","level":"High","x":68,"y":0},{"angle":"0","level":"High","x":70,"y":0},
{"angle":"-45","level":"High","x":0,"y":0},{"angle":"-45","level":"High","x":4,"y":0.0002},{"angle":"-45","level":"High","x":6,"y":0.0004},{"angle":"-45","level":"High","x":8,"y":0.0008},{"angle":"-45","level":"High","x":10,"y":0.0013},{"angle":"-45","level":"High","x":12,"y":0.002},{"angle":"-45","level":"High","x":13,"y":0.0026},{"angle":"-45","level":"High","x":14,"y":0.0033},{"angle":"-45","level":"High","x":15,"y":0.0042},{"angle":"-45","level":"High","x":16,"y":0.0055},{"angle":"-45","level":"High","x":17,"y":0.0078},{"angle":"-45","level":"High","x":18,"y":0.0105},{"angle":"-45","level":"High","x":19,"y":0.0135},{"angle":"-45","level":"High","x":20,"y":0.0175},{"angle":"-45","level":"High","x":21,"y":0.022},{"angle":"-45","level":"High","x":22,"y":0.0265},{"angle":"-45","level":"High","x":23,"y":0.0315},{"angle":"-45","level":"High","x":24,"y":0.0365},{"angle":"-45","level":"High","x":25,"y":0.041},{"angle":"-45","level":"High","x":26,"y":0.0445},{"angle":"-45","level":"High","x":27,"y":0.0475},{"angle":"-45","level":"High","x":28,"y":0.0495},{"angle":"-45","level":"High","x":29,"y":0.0508},{"angle":"-45","level":"High","x":30,"y":0.0512},{"angle":"-45","level":"High","x":31,"y":0.051},{"angle":"-45","level":"High","x":32,"y":0.049},{"angle":"-45","level":"High","x":33,"y":0.0465},{"angle":"-45","level":"High","x":34,"y":0.0435},{"angle":"-45","level":"High","x":35,"y":0.0405},{"angle":"-45","level":"High","x":36,"y":0.0365},{"angle":"-45","level":"High","x":37,"y":0.0325},{"angle":"-45","level":"High","x":38,"y":0.0268},{"angle":"-45","level":"High","x":39,"y":0.0217},{"angle":"-45","level":"High","x":40,"y":0.0175},{"angle":"-45","level":"High","x":41,"y":0.0145},{"angle":"-45","level":"High","x":42,"y":0.0122},{"angle":"-45","level":"High","x":43,"y":0.0105},{"angle":"-45","level":"High","x":44,"y":0.0098},{"angle":"-45","level":"High","x":45,"y":0.0096},{"angle":"-45","level":"High","x":46,"y":0.0096},{"angle":"-45","level":"High","x":47,"y":0.0095},{"angle":"-45","level":"High","x":48,"y":0.0093},{"angle":"-45","level":"High","x":49,"y":0.0088},{"angle":"-45","level":"High","x":50,"y":0.008},{"angle":"-45","level":"High","x":51,"y":0.0068},{"angle":"-45","level":"High","x":52,"y":0.0052},{"angle":"-45","level":"High","x":53,"y":0.0038},{"angle":"-45","level":"High","x":54,"y":0.0027},{"angle":"-45","level":"High","x":55,"y":0.0017},{"angle":"-45","level":"High","x":56,"y":0.001},{"angle":"-45","level":"High","x":57,"y":0.0006},{"angle":"-45","level":"High","x":58,"y":0.0003},{"angle":"-45","level":"High","x":60,"y":0.0001},{"angle":"-45","level":"High","x":62,"y":0},{"angle":"-45","level":"High","x":70,"y":0},
{"angle":"-90","level":"High","x":0,"y":0},{"angle":"-90","level":"High","x":2,"y":0.0002},{"angle":"-90","level":"High","x":4,"y":0.0005},{"angle":"-90","level":"High","x":6,"y":0.0009},{"angle":"-90","level":"High","x":8,"y":0.0013},{"angle":"-90","level":"High","x":10,"y":0.002},{"angle":"-90","level":"High","x":11,"y":0.003},{"angle":"-90","level":"High","x":12,"y":0.0038},{"angle":"-90","level":"High","x":13,"y":0.0048},{"angle":"-90","level":"High","x":14,"y":0.0058},{"angle":"-90","level":"High","x":15,"y":0.0065},{"angle":"-90","level":"High","x":16,"y":0.0075},{"angle":"-90","level":"High","x":17,"y":0.0092},{"angle":"-90","level":"High","x":18,"y":0.011},{"angle":"-90","level":"High","x":19,"y":0.0125},{"angle":"-90","level":"High","x":20,"y":0.0137},{"angle":"-90","level":"High","x":21,"y":0.015},{"angle":"-90","level":"High","x":22,"y":0.0163},{"angle":"-90","level":"High","x":23,"y":0.018},{"angle":"-90","level":"High","x":24,"y":0.021},{"angle":"-90","level":"High","x":25,"y":0.025},{"angle":"-90","level":"High","x":26,"y":0.0305},{"angle":"-90","level":"High","x":27,"y":0.0365},{"angle":"-90","level":"High","x":28,"y":0.043},{"angle":"-90","level":"High","x":29,"y":0.0495},{"angle":"-90","level":"High","x":30,"y":0.055},{"angle":"-90","level":"High","x":31,"y":0.0585},{"angle":"-90","level":"High","x":31.5,"y":0.059},{"angle":"-90","level":"High","x":32,"y":0.0585},{"angle":"-90","level":"High","x":33,"y":0.0548},{"angle":"-90","level":"High","x":34,"y":0.049},{"angle":"-90","level":"High","x":35,"y":0.0425},{"angle":"-90","level":"High","x":36,"y":0.0375},{"angle":"-90","level":"High","x":37,"y":0.032},{"angle":"-90","level":"High","x":38,"y":0.0265},{"angle":"-90","level":"High","x":39,"y":0.0217},{"angle":"-90","level":"High","x":40,"y":0.018},{"angle":"-90","level":"High","x":41,"y":0.015},{"angle":"-90","level":"High","x":42,"y":0.0125},{"angle":"-90","level":"High","x":43,"y":0.0112},{"angle":"-90","level":"High","x":44,"y":0.0103},{"angle":"-90","level":"High","x":45,"y":0.0095},{"angle":"-90","level":"High","x":46,"y":0.0088},{"angle":"-90","level":"High","x":47,"y":0.0078},{"angle":"-90","level":"High","x":48,"y":0.0069},{"angle":"-90","level":"High","x":49,"y":0.0062},{"angle":"-90","level":"High","x":50,"y":0.0054},{"angle":"-90","level":"High","x":51,"y":0.0046},{"angle":"-90","level":"High","x":52,"y":0.004},{"angle":"-90","level":"High","x":53,"y":0.0036},{"angle":"-90","level":"High","x":54,"y":0.0034},{"angle":"-90","level":"High","x":55,"y":0.0032},{"angle":"-90","level":"High","x":56,"y":0.003},{"angle":"-90","level":"High","x":57,"y":0.0029},{"angle":"-90","level":"High","x":58,"y":0.0025},{"angle":"-90","level":"High","x":59,"y":0.0018},{"angle":"-90","level":"High","x":60,"y":0.001},{"angle":"-90","level":"High","x":61,"y":0.0006},{"angle":"-90","level":"High","x":62,"y":0.0003},{"angle":"-90","level":"High","x":64,"y":0.0001},{"angle":"-90","level":"High","x":66,"y":0},{"angle":"-90","level":"High","x":70,"y":0}
]},
"mark": {"type": "line", "interpolate": "monotone"},
"encoding": {
  "x": {"field": "x", "type": "quantitative", "scale": {"domain": [0, 70], "nice": false, "zero": false},
        "axis": {"values": [0,10,20,30,40,50,60,70], "title": "Impulse (N.s)", "titlePadding": 2}},
  "y": {"field": "y", "type": "quantitative", "scale": {"domain": [0, 0.13], "nice": false},
        "axis": {"values": [0,0.02,0.04,0.06,0.08,0.1,0.12], "labelExpr": "datum.value == 0 ? '0.0' : format(datum.value, '.2~f')", "title": "Distribution Density", "titlePadding": 4}},
  "color": {"field": "angle", "type": "nominal",
    "scale": {"domain": ["90","45","0","-45","-90"], "range": ["#d62728","#ff7f0e","#47e147","#9467bd","#1f77b4"]},
    "legend": {"title": "Instructed Angles:", "orient": "none", "legendX": 424, "legendY": 159,
      "symbolType": "circle", "symbolSize": 225, "symbolOffset": 49, "labelOffset": 25,
      "encode": {"symbols": {"update": {"fill": {"scale": "color", "field": "value"}, "fillOpacity": {"value": 1}, "strokeWidth": {"value": 0}, "opacity": {"value": 1}}}}}},
  "strokeDash": {"field": "level", "type": "nominal",
    "scale": {"domain": ["Low","Medium","High"], "range": [[1,0],[9,4],[1,0]]},
    "legend": {"title": "Perturbation intensities:", "orient": "none", "legendX": 369, "legendY": 10,
      "symbolType": "stroke", "symbolSize": 1764, "symbolOffset": 40, "labelOffset": 10, "symbolStrokeColor": "black"}},
  "strokeWidth": {"field": "level", "type": "ordinal",
    "scale": {"type": "ordinal", "domain": ["Low","Medium","High"], "range": [1.6,2.6,4.6]},
    "legend": {"title": "Perturbation intensities:", "orient": "none", "legendX": 369, "legendY": 10,
      "symbolType": "stroke", "symbolSize": 1764, "symbolOffset": 40, "labelOffset": 10, "symbolStrokeColor": "black"}}
}
}
